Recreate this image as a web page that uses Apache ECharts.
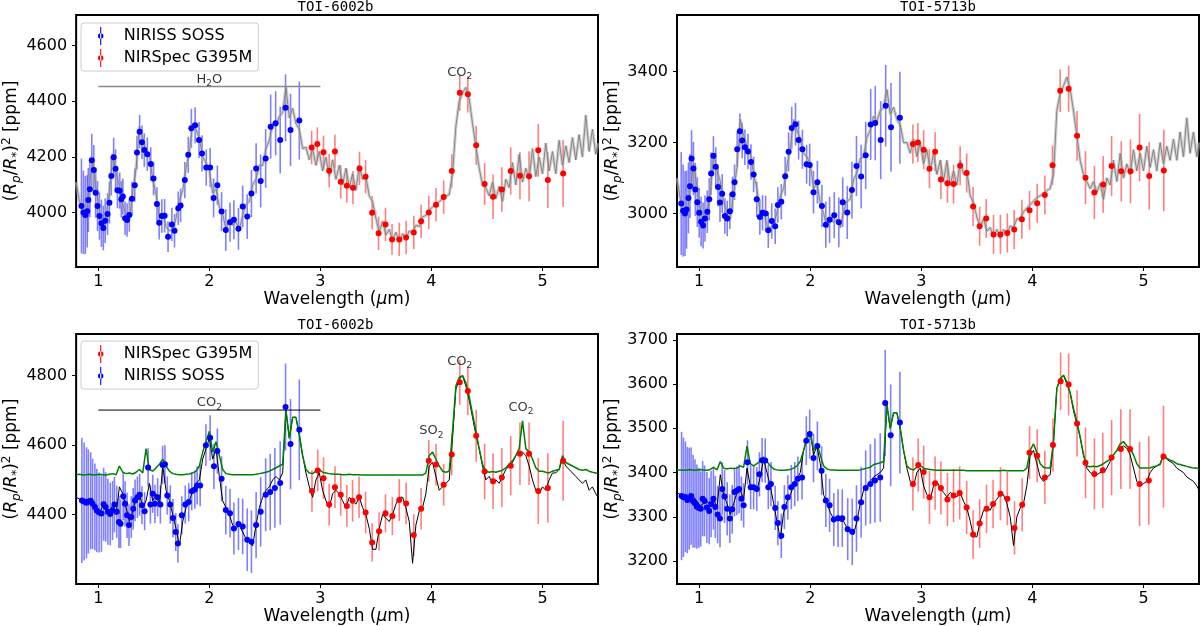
<!DOCTYPE html>
<html><head><meta charset="utf-8">
<script src="https://cdn.jsdelivr.net/npm/echarts@6/dist/echarts.min.js"></script>
<style>html,body{margin:0;padding:0;background:#fff}#c{width:1200px;height:626px}</style>
</head><body><div id="c"></div>
<script>
// ---------- model wavelength grid (µm) ----------
const WL = [
0.80,0.83,0.86,0.89,0.92,0.95,0.98,1.01,1.04,1.07,
1.10,1.13,1.16,1.19,1.22,1.25,1.28,1.31,1.34,1.37,
1.40,1.43,1.46,1.49,1.52,1.55,1.58,1.61,1.64,1.67,
1.70,1.73,1.76,1.79,1.82,1.85,1.88,1.91,1.94,1.97,
2.00,2.03,2.06,2.09,2.12,2.15,2.18,2.21,2.24,2.27,
2.30,2.33,2.36,2.39,2.42,2.45,2.48,2.51,2.54,2.57,
2.60,2.63,2.66,2.69,2.72,2.75,2.78,2.81,2.84,2.87,
2.90,2.93,2.96,2.99,3.02,3.05,3.08,3.11,3.14,3.17,
3.20,3.23,3.26,3.29,3.32,3.35,3.38,3.41,3.44,3.47,
3.50,3.53,3.56,3.59,3.62,3.65,3.68,3.71,3.74,3.77,
3.80,3.83,3.86,3.89,3.92,3.95,3.98,4.01,4.04,4.07,
4.10,4.13,4.16,4.19,4.22,4.25,4.28,4.31,4.34,4.37,
4.40,4.43,4.46,4.49,4.52,4.55,4.58,4.61,4.64,4.67,
4.70,4.73,4.76,4.79,4.82,4.85,4.88,4.91,4.94,4.97,
5.00,5.03,5.06,5.09,5.12,5.15,5.18,5.21,5.24,5.27,
5.30,5.33,5.36,5.39,5.42,5.45,5.48,5.50];

// ---------- TOI-6002b (top) ----------
const TL_MODEL = [
4110,4040,4015,3990,4105,4180,4085,4010,3945,3990,
4070,4210,4140,4095,4030,3990,3975,4075,4160,4310,
4270,4220,4205,4120,4065,3980,4000,3950,3935,3940,
3980,4045,4080,4160,4220,4320,4300,4265,4200,4180,
4150,4070,4085,4020,3995,3940,3975,3955,3965,3940,
3990,4030,4040,4100,4120,4170,4170,4230,4260,4320,
4310,4345,4360,4450,4340,4375,4320,4300,4230,4235,
4190,4230,4170,4220,4150,4200,4130,4190,4120,4170,
4100,4160,4090,4140,4080,4170,4120,4130,4060,4040,
3980,3930,3970,3920,3940,3900,3930,3895,3925,3905,
3935,3925,3955,3950,3985,3990,4010,4020,4030,4040,
4050,4060,4065,4140,4310,4400,4430,4450,4410,4320,
4240,4160,4100,4090,4060,4110,4050,4095,4040,4120,
4090,4180,4100,4210,4110,4160,4120,4230,4130,4200,
4140,4250,4150,4220,4140,4260,4170,4240,4180,4270,
4190,4280,4200,4350,4220,4300,4210,4250];

// [wavelength, depth, error]
const TL_SOSS = [
[0.848,4024,170],[0.866,4001,150],[0.883,3992,140],[0.900,4005,130],[0.910,4046,115],[0.924,4084,100],[0.941,4188,95],[0.959,4153,90],[0.976,4072,90],[0.993,4024,90],
[1.010,3988,85],[1.028,3962,85],[1.045,3945,80],[1.062,3971,80],[1.083,3995,75],[1.100,4036,75],[1.117,4132,70],[1.138,4199,70],[1.155,4158,70],[1.172,4081,65],
[1.193,4079,65],[1.207,4048,65],[1.221,4058,65],[1.241,3980,60],[1.259,3974,60],[1.279,3992,60],[1.303,4050,60],[1.328,4099,60],[1.348,4216,60],[1.372,4291,60],
[1.393,4253,60],[1.414,4225,60],[1.441,4210,60],[1.472,4175,60],[1.497,4123,60],[1.528,4031,60],[1.548,3964,60],[1.572,3988,60],[1.597,3989,60],[1.628,3914,55],
[1.662,3958,60],[1.686,3935,60],[1.720,4016,60],[1.741,4026,60],[1.779,4117,65],[1.810,4208,65],[1.838,4303,70],[1.872,4314,65],[1.907,4261,65],[1.934,4213,65],
[1.972,4162,65],[2.007,4162,70],[2.038,4053,70],[2.072,4099,70],[2.110,4004,70],[2.148,3938,75],[2.186,3966,70],[2.221,3975,70],[2.262,3942,75],[2.300,4022,75],
[2.341,3986,80],[2.379,4069,85],[2.421,4159,90],[2.462,4114,95],[2.507,4195,105],[2.552,4309,115],[2.597,4321,115],[2.638,4261,120],[2.686,4377,120],[2.731,4297,130],[2.810,4331,140]];

const TL_G395M = [
[2.921,4234,60],[2.972,4247,60],[3.028,4217,60],[3.079,4151,60],[3.131,4220,60],[3.183,4111,60],[3.238,4097,60],[3.293,4090,60],[3.352,4159,60],[3.407,4129,60],
[3.466,4000,60],[3.524,3926,60],[3.586,3958,60],[3.645,3904,55],[3.710,3904,60],[3.772,3911,60],[3.841,3929,60],[3.907,3969,60],[3.976,4001,60],[4.041,4029,60],
[4.110,4056,60],[4.183,4150,60],[4.255,4431,65],[4.328,4425,65],[4.403,4242,70],[4.479,4103,75],[4.555,4057,80],[4.634,4083,80],[4.714,4150,85],[4.797,4133,85],
[4.879,4131,90],[4.962,4224,95],[5.048,4117,100],[5.186,4141,120]];

// ---------- TOI-5713b (top) ----------
const TR_MODEL = [
3100,3040,3020,3000,3070,3140,3075,3015,2965,2995,
3055,3170,3120,3090,3035,3000,2985,3060,3130,3265,
3220,3190,3170,3110,3070,2995,3010,2965,2960,2965,
3005,3050,3070,3135,3185,3265,3235,3210,3170,3160,
3140,3070,3085,3030,3000,2960,2990,2975,2985,2960,
3005,3035,3040,3095,3115,3155,3160,3215,3235,3275,
3260,3290,3300,3350,3280,3300,3265,3250,3200,3200,
3170,3210,3160,3200,3140,3180,3120,3170,3110,3150,
3090,3150,3080,3120,3080,3150,3110,3120,3050,3030,
2990,2960,2985,2950,2960,2935,2955,2930,2955,2940,
2965,2960,2985,2985,3005,3015,3025,3035,3045,3050,
3055,3065,3070,3110,3290,3340,3360,3385,3350,3290,
3220,3150,3110,3090,3070,3090,3060,3085,3040,3100,
3080,3150,3090,3170,3100,3140,3110,3180,3120,3170,
3120,3190,3130,3180,3120,3200,3140,3190,3150,3210,
3150,3230,3160,3270,3170,3230,3160,3200];

const TR_SOSS = [
[0.838,3028,145],[0.855,3008,130],[0.872,3000,120],[0.886,3011,110],[0.903,3044,100],[0.917,3077,90],[0.931,3155,80],[0.948,3127,75],[0.965,3068,75],[0.983,3032,70],
[1.000,3002,70],[1.017,2977,70],[1.035,2966,65],[1.052,2986,65],[1.073,3005,60],[1.090,3040,60],[1.107,3113,60],[1.128,3163,55],[1.149,3132,55],[1.169,3075,55],
[1.187,3031,55],[1.207,3056,55],[1.231,2993,50],[1.252,2986,50],[1.276,3006,50],[1.300,3054,50],[1.318,3088,50],[1.342,3181,50],[1.366,3232,50],[1.387,3206,50],
[1.411,3187,50],[1.439,3175,50],[1.466,3145,50],[1.490,3110,50],[1.518,3040,50],[1.546,2990,50],[1.570,3002,50],[1.598,3000,50],[1.622,2953,50],[1.653,2979,50],
[1.684,2964,50],[1.708,3024,50],[1.739,3033,50],[1.774,3105,55],[1.805,3174,55],[1.833,3241,60],[1.867,3252,60],[1.895,3207,55],[1.929,3181,55],[1.967,3139,55],
[1.995,3137,60],[2.029,3060,60],[2.064,3088,60],[2.105,3021,60],[2.140,2968,65],[2.174,2982,65],[2.216,2995,65],[2.257,2975,70],[2.292,3032,70],[2.333,3003,75],
[2.375,3066,80],[2.416,3134,85],[2.458,3104,90],[2.499,3164,95],[2.544,3251,100],[2.585,3255,105],[2.634,3207,110],[2.679,3304,115],[2.727,3243,125],[2.807,3270,130]];

const TR_G395M = [
[2.924,3196,55],[2.969,3200,55],[3.021,3180,55],[3.073,3126,55],[3.124,3174,55],[3.176,3096,55],[3.235,3085,55],[3.290,3083,55],[3.349,3135,55],[3.408,3114,55],
[3.466,3020,55],[3.525,2964,55],[3.584,2986,55],[3.650,2941,55],[3.712,2941,55],[3.774,2945,55],[3.836,2955,55],[3.905,2984,55],[3.974,3009,55],[4.043,3029,55],
[4.112,3052,55],[4.181,3136,55],[4.250,3346,60],[4.326,3352,65],[4.402,3219,70],[4.478,3101,75],[4.558,3059,75],[4.637,3082,80],[4.713,3134,85],[4.800,3119,85],
[4.883,3119,90],[4.965,3186,95],[5.052,3106,95],[5.183,3121,115]];

// ---------- TOI-6002b (bottom) ----------
const BL_BLACK = [
4450,4445,4440,4435,4440,4430,4415,4405,4425,4420,
4400,4430,4400,4480,4460,4420,4380,4410,4450,4460,
4420,4440,4490,4440,4460,4430,4540,4470,4440,4400,
4360,4310,4380,4420,4440,4470,4490,4500,4560,4590,
4620,4560,4590,4510,4440,4420,4400,4370,4360,4370,
4350,4330,4320,4310,4370,4420,4450,4470,4480,4500,
4510,4500,4520,4700,4620,4680,4680,4630,4570,4520,
4480,4450,4500,4520,4470,4440,4420,4460,4470,4460,
4440,4420,4450,4440,4430,4450,4420,4400,4360,4300,
4300,4360,4400,4390,4380,4400,4430,4450,4450,4420,
4380,4260,4370,4410,4420,4460,4540,4550,4510,4470,
4480,4490,4500,4620,4760,4790,4800,4770,4730,4680,
4630,4590,4540,4500,4510,4490,4500,4490,4510,4530,
4540,4550,4570,4580,4580,4570,4540,4500,4470,4460,
4480,4470,4500,4520,4520,4530,4560,4540,4530,4520,
4510,4500,4490,4500,4470,4480,4460,4450];

const BL_GREEN = [
4515,4516,4514,4515,4516,4514,4515,4516,4515,4514,
4516,4518,4515,4540,4522,4518,4520,4517,4522,4530,
4520,4590,4530,4525,4535,4545,4560,4540,4525,4518,
4516,4515,4515,4516,4517,4520,4525,4540,4580,4610,
4640,4580,4610,4570,4530,4518,4516,4515,4515,4515,
4515,4515,4515,4515,4516,4518,4520,4522,4525,4530,
4535,4540,4545,4700,4620,4680,4680,4630,4570,4530,
4520,4518,4525,4530,4522,4520,4518,4517,4516,4516,
4515,4515,4516,4515,4515,4515,4514,4514,4514,4514,
4514,4514,4514,4514,4514,4514,4514,4514,4514,4514,
4514,4514,4514,4514,4514,4520,4570,4580,4560,4540,
4525,4522,4525,4640,4770,4795,4800,4780,4740,4690,
4640,4590,4545,4525,4522,4524,4522,4525,4528,4535,
4545,4555,4570,4590,4670,4590,4580,4560,4535,4525,
4525,4522,4520,4525,4528,4530,4570,4550,4545,4540,
4535,4530,4528,4530,4525,4522,4520,4518];

const BL_SOSS = [
[0.852,4441,180],[0.872,4438,170],[0.893,4434,160],[0.910,4438,150],[0.931,4440,140],[0.948,4431,130],[0.969,4422,125],[0.986,4412,120],[1.007,4406,115],[1.028,4403,110],
[1.048,4430,105],[1.066,4422,100],[1.086,4408,95],[1.107,4402,90],[1.128,4412,85],[1.145,4429,80],[1.166,4408,75],[1.186,4379,75],[1.200,4374,70],[1.224,4453,70],
[1.241,4431,65],[1.259,4398,65],[1.276,4370,60],[1.297,4393,60],[1.314,4417,60],[1.331,4441,60],[1.352,4450,60],[1.372,4457,60],[1.393,4427,55],[1.417,4410,55],
[1.448,4536,55],[1.469,4429,55],[1.490,4460,55],[1.510,4431,55],[1.534,4450,55],[1.559,4429,55],[1.579,4543,55],[1.600,4545,55],[1.621,4455,55],[1.648,4429,55],
[1.672,4390,55],[1.697,4350,55],[1.717,4317,55],[1.752,4398,55],[1.783,4429,55],[1.814,4436,55],[1.841,4467,55],[1.869,4472,55],[1.890,4484,55],[1.917,4484,60],
[1.969,4600,60],[2.007,4621,65],[2.041,4539,65],[2.072,4583,65],[2.110,4503,65],[2.148,4413,70],[2.186,4404,70],[2.221,4360,75],[2.262,4373,75],[2.300,4366,80],
[2.341,4328,90],[2.379,4322,90],[2.421,4370,95],[2.462,4408,100],[2.507,4457,105],[2.548,4465,110],[2.590,4477,115],[2.638,4491,120],[2.686,4710,125],[2.731,4603,130],[2.810,4644,145]];

const BL_G395M = [
[2.924,4468,60],[2.976,4527,60],[3.028,4505,60],[3.079,4429,60],[3.131,4479,60],[3.183,4457,60],[3.238,4425,60],[3.290,4440,60],[3.348,4450,60],[3.407,4406,60],
[3.466,4320,55],[3.528,4352,55],[3.586,4404,55],[3.648,4396,55],[3.710,4442,60],[3.772,4432,60],[3.841,4341,60],[3.907,4417,60],[3.976,4555,60],[4.041,4544,60],
[4.110,4486,60],[4.183,4573,60],[4.255,4781,65],[4.328,4756,70],[4.403,4627,75],[4.479,4524,80],[4.555,4496,80],[4.634,4507,85],[4.714,4541,85],[4.797,4575,90],
[4.879,4575,90],[4.962,4468,95],[5.048,4477,100],[5.186,4555,115]];

// ---------- TOI-5713b (bottom) ----------
const BR_BLACK = [
3355,3350,3346,3342,3340,3345,3335,3325,3330,3335,
3325,3340,3320,3395,3350,3330,3305,3330,3355,3360,
3340,3410,3370,3365,3360,3390,3430,3400,3370,3330,
3290,3250,3310,3335,3350,3370,3385,3400,3450,3475,
3490,3440,3460,3420,3350,3330,3310,3295,3300,3290,
3290,3275,3265,3260,3290,3330,3360,3370,3380,3390,
3395,3400,3410,3550,3500,3535,3535,3500,3450,3410,
3380,3370,3400,3410,3370,3350,3340,3370,3380,3365,
3355,3345,3355,3350,3345,3355,3335,3320,3290,3255,
3255,3290,3315,3320,3315,3330,3340,3350,3350,3330,
3300,3235,3300,3320,3330,3370,3440,3450,3420,3390,
3380,3390,3395,3470,3590,3610,3620,3600,3580,3540,
3510,3480,3440,3410,3400,3395,3395,3400,3400,3410,
3425,3440,3450,3455,3460,3455,3440,3410,3380,3370,
3375,3380,3400,3410,3415,3420,3440,3430,3425,3420,
3410,3405,3400,3390,3385,3380,3370,3360];

const BR_GREEN = [
3406,3406,3405,3406,3407,3405,3406,3407,3406,3405,
3407,3412,3406,3425,3410,3408,3410,3409,3410,3415,
3412,3460,3420,3415,3420,3425,3435,3425,3415,3408,
3406,3405,3405,3406,3407,3410,3415,3425,3450,3480,
3490,3450,3465,3440,3415,3408,3406,3406,3405,3405,
3405,3405,3405,3405,3405,3406,3408,3410,3412,3418,
3420,3422,3425,3555,3500,3535,3535,3500,3450,3415,
3408,3406,3412,3416,3410,3408,3407,3406,3405,3405,
3405,3405,3405,3405,3405,3405,3405,3404,3404,3404,
3404,3404,3404,3404,3404,3404,3404,3404,3405,3404,
3404,3404,3404,3404,3404,3410,3450,3465,3445,3420,
3412,3410,3410,3470,3590,3612,3620,3605,3580,3545,
3515,3480,3440,3415,3413,3414,3413,3416,3420,3425,
3430,3440,3450,3465,3470,3460,3455,3440,3420,3410,
3410,3410,3411,3413,3415,3418,3440,3432,3428,3425,
3420,3418,3416,3414,3412,3410,3410,3408];

const BR_SOSS = [
[0.841,3347,145],[0.858,3344,135],[0.876,3345,125],[0.893,3338,120],[0.910,3341,115],[0.927,3347,110],[0.945,3335,105],[0.962,3330,100],[0.979,3323,95],[0.997,3320,90],
[1.014,3318,85],[1.031,3341,85],[1.048,3336,80],[1.069,3321,80],[1.090,3313,75],[1.107,3329,75],[1.128,3341,70],[1.145,3322,70],[1.166,3305,65],[1.187,3296,65],
[1.207,3363,60],[1.228,3346,60],[1.252,3318,60],[1.276,3296,55],[1.297,3317,55],[1.318,3356,55],[1.339,3359,55],[1.359,3363,55],[1.380,3341,50],[1.400,3326,50],
[1.435,3423,50],[1.463,3367,50],[1.490,3367,50],[1.518,3363,50],[1.542,3396,50],[1.566,3428,50],[1.594,3427,50],[1.622,3367,50],[1.646,3374,50],[1.684,3320,50],
[1.708,3286,50],[1.739,3257,50],[1.767,3322,50],[1.798,3344,50],[1.829,3367,50],[1.860,3374,50],[1.888,3386,50],[1.926,3389,50],[1.964,3472,55],[1.995,3487,55],
[2.029,3433,55],[2.064,3460,55],[2.102,3404,55],[2.140,3337,60],[2.174,3326,60],[2.212,3294,60],[2.250,3297,65],[2.288,3297,65],[2.337,3272,70],[2.378,3266,75],
[2.416,3296,75],[2.458,3333,80],[2.499,3365,85],[2.541,3374,90],[2.582,3382,95],[2.630,3389,100],[2.675,3557,120],[2.724,3484,115],[2.807,3513,115]];

const BR_G395M = [
[2.924,3374,60],[2.972,3417,60],[3.021,3401,60],[3.073,3344,60],[3.124,3376,60],[3.176,3365,60],[3.235,3339,60],[3.290,3348,60],[3.345,3354,60],[3.408,3321,60],
[3.466,3260,55],[3.525,3285,55],[3.587,3318,55],[3.646,3329,55],[3.712,3352,60],[3.774,3341,60],[3.839,3275,60],[3.908,3327,60],[3.974,3445,60],[4.043,3438,60],
[4.112,3389,60],[4.185,3462,60],[4.254,3606,65],[4.326,3599,70],[4.402,3511,75],[4.478,3422,80],[4.558,3397,80],[4.634,3405,85],[4.713,3434,85],[4.796,3453,90],
[4.879,3453,90],[4.965,3374,95],[5.048,3382,100],[5.180,3436,115]];

// ---------- axes, ticks, titles, annotations ----------
const TITLES = ['TOI-6002b','TOI-5713b','TOI-6002b','TOI-5713b'];
const X_TICKS = [1,2,3,4,5];
const Y_RANGES = [[3805,4710],[2849,3560],[4200,4920],[3148,3713]];
const Y_TICKS = [[4000,4200,4400,4600],[3000,3200,3400],[4400,4600,4800],[3200,3300,3400,3500,3600,3700]];
const TL_BAR = [[1.0,4453],[3.0,4453]];
const BL_BAR = [[1.0,4701],[3.0,4701]];
const TL_LABELS = [[2.0,4479,'H{s|2}O'],[4.255,4503,'CO{s|2}']];
const BL_LABELS = [[2.0,4722,'CO{s|2}'],[4.0,4641,'SO{s|2}'],[4.255,4841,'CO{s|2}'],[4.807,4709,'CO{s|2}']];

// ---------- layout ----------
const FONT = 'DejaVu Sans';
const GRIDS = [
  {left:73, top:15, width:525, height:252},
  {left:677, top:15, width:522, height:252},
  {left:73, top:334, width:525, height:252},
  {left:677, top:334, width:522, height:252}
];
const BLUE = '#0000ff', RED = '#ff0000';
const BLUE_ERR = 'rgba(0,0,255,0.5)', RED_ERR = 'rgba(255,0,0,0.5)';

function errRender(color){
  return function(params, api){
    const x = api.value(0), y = api.value(1), e = api.value(2);
    const a = api.coord([x, y - e]), b = api.coord([x, y + e]);
    return {type:'line', shape:{x1:a[0], y1:a[1], x2:b[0], y2:b[1]}, style:{stroke:color, lineWidth:1.6}};
  };
}
function errSeries(name, data, idx, color){
  return {type:'custom', name, xAxisIndex:idx, yAxisIndex:idx, data, renderItem:errRender(color),
          encode:{x:0, y:1}, clip:true, silent:true, z:2};
}
function ptSeries(name, data, idx, color){
  return {type:'scatter', name, xAxisIndex:idx, yAxisIndex:idx, data:data.map(d=>[d[0],d[1]]),
          symbol:'circle', symbolSize:6, itemStyle:{color, opacity:1}, silent:true, z:6};
}
function modelSeries(vals, idx, color, width, z){
  return {type:'line', xAxisIndex:idx, yAxisIndex:idx, data:WL.map((w,i)=>[w, vals[i]]),
          showSymbol:false, symbol:'none', lineStyle:{color, width}, silent:true, z, clip:true};
}
function barSeries(pts, idx, color, width){
  return {type:'line', xAxisIndex:idx, yAxisIndex:idx, data:pts, showSymbol:false, symbol:'none',
          lineStyle:{color, width}, silent:true, z:4};
}
const RICH_LBL = {s:{fontSize:9, fontFamily:FONT, color:'#000', padding:[9,0,0,0]}};
function labelSeries(items, idx){
  return {type:'scatter', xAxisIndex:idx, yAxisIndex:idx, symbolSize:0, silent:true, z:7,
          data:items.map(d=>({value:[d[0],d[1]], name:d[2]})),
          label:{show:true, position:'inside', formatter:p=>p.name, fontSize:13, fontFamily:FONT, color:'#000', rich:RICH_LBL}};
}

const ICON = 'path://M3.4,0H4.6V20H3.4Z M1,10A3,3,0,1,0,7,10A3,3,0,1,0,1,10Z';
function legendCfg(top, names){
  return {
    left:81, top, orient:'vertical', itemGap:4, itemWidth:8, itemHeight:18,
    backgroundColor:'#fff', borderColor:'#cccccc', borderWidth:1, borderRadius:3,
    padding:[4,6,4,17], selectedMode:false,
    textStyle:{fontSize:16, fontFamily:FONT, color:'#000', padding:[0,0,0,14]},
    data:names.map(n=>({name:n, icon:ICON, itemStyle:{color: n==='NIRISS SOSS'?BLUE:RED}}))
  };
}
const plain = v => String(v);

const xAxes = GRIDS.map((g,i)=>({
  type:'value', gridIndex:i, min:0.8, max:5.5,
  name:'Wavelength ({it|μ}m)', nameLocation:'middle', nameGap:22,
  nameTextStyle:{fontSize:17, fontFamily:FONT, color:'#000', rich:{it:{fontSize:17, fontFamily:FONT, fontStyle:'italic', color:'#000'}}},
  axisLine:{show:false}, splitLine:{show:false},
  axisTick:{show:true, length:4, customValues:X_TICKS, lineStyle:{color:'#000', width:1}},
  axisLabel:{customValues:X_TICKS, formatter:plain, fontSize:16, fontFamily:FONT, color:'#000', margin:7}
}));
const yAxes = GRIDS.map((g,i)=>({
  type:'value', gridIndex:i, min:Y_RANGES[i][0], max:Y_RANGES[i][1],
  name:'({it|R}{sb|p}/{it|R}{sb|*}){sp|2} [ppm]', nameLocation:'middle', nameRotate:90, nameGap:50,
  nameTextStyle:{fontSize:17, fontFamily:FONT, color:'#000', rich:{
    it:{fontSize:17, fontFamily:FONT, fontStyle:'italic', color:'#000'},
    sb:{fontSize:12, fontFamily:FONT, fontStyle:'italic', color:'#000', padding:[9,0,0,0]},
    sp:{fontSize:12, fontFamily:FONT, color:'#000', padding:[0,0,10,0]}}},
  axisLine:{show:false}, splitLine:{show:false},
  axisTick:{show:true, length:4, customValues:Y_TICKS[i], lineStyle:{color:'#000', width:1}},
  axisLabel:{customValues:Y_TICKS[i], formatter:plain, fontSize:16, fontFamily:FONT, color:'#000', margin:9}
}));

const series = [
  // top-left
  errSeries('NIRISS SOSS', TL_SOSS, 0, BLUE_ERR),
  errSeries('NIRSpec G395M', TL_G395M, 0, RED_ERR),
  modelSeries(TL_MODEL, 0, 'rgba(175,175,175,0.55)', 3.2, 3),
  modelSeries(TL_MODEL, 0, '#7d7d7d', 0.9, 3),
  ptSeries('NIRISS SOSS', TL_SOSS, 0, BLUE),
  ptSeries('NIRSpec G395M', TL_G395M, 0, RED),
  barSeries(TL_BAR, 0, '#888888', 1.6),
  labelSeries(TL_LABELS, 0),
  // top-right
  errSeries('NIRISS SOSS', TR_SOSS, 1, BLUE_ERR),
  errSeries('NIRSpec G395M', TR_G395M, 1, RED_ERR),
  modelSeries(TR_MODEL, 1, 'rgba(175,175,175,0.55)', 3.2, 3),
  modelSeries(TR_MODEL, 1, '#7d7d7d', 0.9, 3),
  ptSeries('NIRISS SOSS', TR_SOSS, 1, BLUE),
  ptSeries('NIRSpec G395M', TR_G395M, 1, RED),
  // bottom-left
  errSeries('NIRISS SOSS', BL_SOSS, 2, BLUE_ERR),
  errSeries('NIRSpec G395M', BL_G395M, 2, RED_ERR),
  modelSeries(BL_BLACK, 2, '#000000', 1, 3),
  modelSeries(BL_GREEN, 2, '#008000', 1.5, 4),
  ptSeries('NIRISS SOSS', BL_SOSS, 2, BLUE),
  ptSeries('NIRSpec G395M', BL_G395M, 2, RED),
  barSeries(BL_BAR, 2, '#000000', 1),
  labelSeries(BL_LABELS, 2),
  // bottom-right
  errSeries('NIRISS SOSS', BR_SOSS, 3, BLUE_ERR),
  errSeries('NIRSpec G395M', BR_G395M, 3, RED_ERR),
  modelSeries(BR_BLACK, 3, '#000000', 1, 3),
  modelSeries(BR_GREEN, 3, '#008000', 1.5, 4),
  ptSeries('NIRISS SOSS', BR_SOSS, 3, BLUE),
  ptSeries('NIRSpec G395M', BR_G395M, 3, RED)
];

const titles = GRIDS.map((g,i)=>({
  text:TITLES[i], left:g.left + g.width/2, top: i<2 ? 0 : 318, textAlign:'center', padding:0,
  textStyle:{fontFamily:'DejaVu Sans Mono', fontSize:14, fontWeight:'normal', color:'#000'}
}));

const chart = echarts.init(document.getElementById('c'), null, {renderer:'canvas'});
chart.setOption({
  animation:false,
  backgroundColor:'#ffffff',
  title:titles,
  legend:[legendCfg(23, ['NIRISS SOSS','NIRSpec G395M']), legendCfg(341, ['NIRSpec G395M','NIRISS SOSS'])],
  grid:GRIDS.map(g=>Object.assign({show:true, borderColor:'#000', borderWidth:2, backgroundColor:'transparent'}, g)),
  xAxis:xAxes,
  yAxis:yAxes,
  series
});
</script>
</body></html>
